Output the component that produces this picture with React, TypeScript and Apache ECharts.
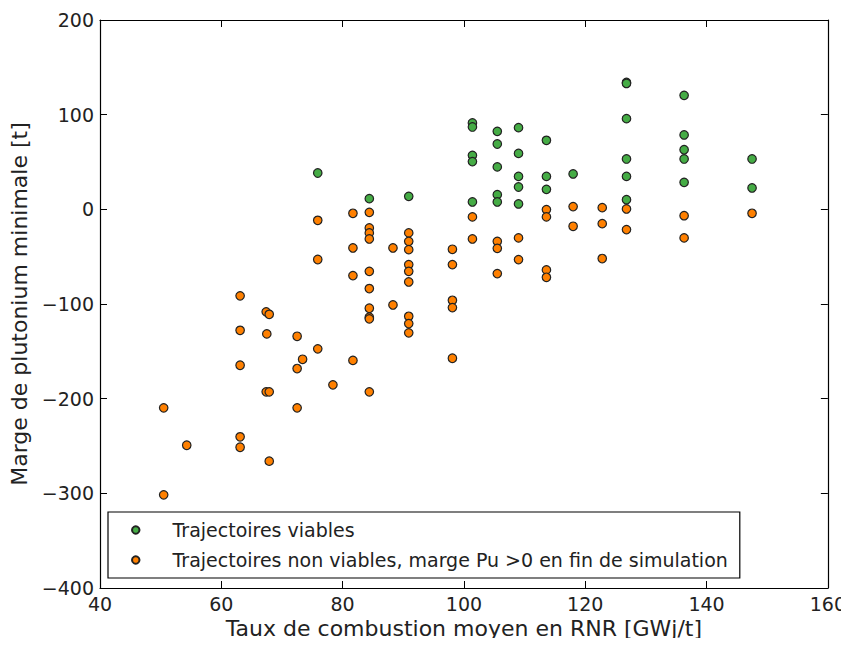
import React, { useEffect, useRef } from "react";
import * as echarts from "echarts";

const viableX = [75.9, 84.4, 90.9, 101.4, 101.4, 101.4, 101.4, 101.4, 105.5, 105.5, 105.5, 105.5, 105.5, 109, 109, 109, 109, 109, 113.6, 113.6, 113.6, 118, 126.8, 126.8, 126.8, 126.8, 126.8, 126.8, 136.3, 136.3, 136.3, 136.3, 136.3, 147.5, 147.5];
const viableY = [38.4, 11.3, 13.7, 91.2, 87, 57, 50.4, 7.8, 82.4, 69, 44.8, 15.5, 7.8, 86.3, 59.1, 34.8, 23.6, 5.7, 72.9, 34.8, 21.1, 37.4, 134, 133, 95.8, 53.2, 34.8, 10.2, 120.4, 78.6, 63, 53.2, 28.5, 53.2, 22.6];

const nonViableX = [50.5, 50.5, 54.3, 63.1, 63.1, 63.1, 63.1, 63.1, 67.4, 67.9, 67.5, 67.4, 67.9, 67.9, 72.5, 72.5, 72.5, 73.4, 75.9, 75.9, 75.9, 78.4, 81.7, 81.7, 81.7, 81.7, 84.4, 84.4, 84.4, 84.4, 84.4, 84.4, 84.4, 84.4, 84.4, 84.4, 88.3, 88.3, 90.9, 90.9, 90.9, 90.9, 90.9, 90.9, 90.9, 90.9, 90.9, 98.1, 98.1, 98.1, 98.1, 98.1, 101.4, 101.4, 105.5, 105.5, 105.5, 109, 109, 113.6, 113.6, 113.6, 113.6, 118, 118, 122.8, 122.8, 122.8, 126.8, 126.8, 136.3, 136.3, 147.5];
const nonViableY = [-209.7, -301.6, -249.2, -91.4, -127.8, -164.7, -240.3, -251.3, -108.3, -110.9, -131.6, -192.8, -192.8, -266, -134.1, -168.2, -209.7, -158.4, -11.6, -53, -147.4, -185.4, -4.2, -40.8, -70, -159.6, -3.2, -19.6, -24.9, -31.3, -65.5, -83.7, -104.5, -114, -115.7, -192.8, -40.8, -101, -24.9, -33.8, -42.6, -58.4, -65.5, -76.7, -113, -120.7, -130.5, -42.2, -58.4, -96.1, -103.8, -157.3, -8, -31.3, -33.8, -41.2, -67.9, -30.2, -53.1, -0.3, -8, -64, -71.8, 2.9, -17.9, 1.8, -15.1, -52, 0.4, -21.4, -6.7, -30.2, -4.2];

const seriesNames = [
  "Trajectoires viables",
  "Trajectoires non viables, marge Pu >0 en fin de simulation",
];
const xLabel = "Taux de combustion moyen en RNR [GWj/t]";
const yLabel = "Marge de plutonium minimale [t]";

const FONT = "DejaVu Sans";
const TEXT = "#222";

function pairs(xs: number[], ys: number[]) {
  return xs.map((x, i) => [x, ys[i]]);
}

const minusFmt = (v: number) => String(v).replace("-", "\u2212");

export default function App() {
  const ref = useRef<HTMLDivElement>(null);
  useEffect(() => {
    if (!ref.current) return;
    const chart = echarts.init(ref.current, undefined, { renderer: "svg" });
    const tickStyle = { inside: true, length: 7, lineStyle: { color: "#000", width: 1 } };
    const lineStyle = { show: true, onZero: false, lineStyle: { color: "#000", width: 1.2 } };
    chart.setOption({
      animation: false,
      textStyle: { fontFamily: FONT },
      grid: { left: 100, right: 21, top: 20, bottom: 58, containLabel: false },
      legend: {
        left: 108,
        top: 512,
        orient: "vertical",
        borderColor: "#000",
        borderWidth: 1.2,
        borderRadius: 0,
        padding: [7, 12, 7, 23],
        itemWidth: 7.5,
        itemHeight: 7.5,
        itemGap: 8,
        icon: "circle",
        textStyle: { fontFamily: FONT, fontSize: 19, color: TEXT, lineHeight: 22, padding: [0, 0, 0, 28] },
        data: seriesNames,
      },
      xAxis: [
        {
          type: "value",
          min: 40,
          max: 160,
          interval: 20,
          name: xLabel,
          nameLocation: "middle",
          nameGap: 27,
          nameTextStyle: { fontFamily: FONT, fontSize: 22, color: TEXT },
          axisLine: lineStyle,
          axisTick: tickStyle,
          axisLabel: { color: TEXT, fontSize: 19, fontFamily: FONT, margin: 6, formatter: minusFmt },
          splitLine: { show: false },
        },
        {
          type: "value",
          position: "top",
          min: 40,
          max: 160,
          interval: 20,
          axisLine: lineStyle,
          axisTick: tickStyle,
          axisLabel: { show: false },
          splitLine: { show: false },
        },
      ],
      yAxis: [
        {
          type: "value",
          min: -400,
          max: 200,
          interval: 100,
          name: yLabel,
          nameLocation: "middle",
          nameGap: 62,
          nameTextStyle: { fontFamily: FONT, fontSize: 22, color: TEXT },
          axisLine: lineStyle,
          axisTick: tickStyle,
          axisLabel: { color: TEXT, fontSize: 19, fontFamily: FONT, margin: 6, formatter: minusFmt },
          splitLine: { show: false },
        },
        {
          type: "value",
          position: "right",
          min: -400,
          max: 200,
          interval: 100,
          axisLine: lineStyle,
          axisTick: tickStyle,
          axisLabel: { show: false },
          splitLine: { show: false },
        },
      ],
      series: [
        {
          name: seriesNames[0],
          type: "scatter",
          xAxisIndex: 0,
          yAxisIndex: 0,
          symbol: "circle",
          symbolSize: 8.5,
          itemStyle: { color: "#45ac45", borderColor: "#222", borderWidth: 1.2, opacity: 1 },
          data: pairs(viableX, viableY),
        },
        {
          name: seriesNames[1],
          type: "scatter",
          xAxisIndex: 0,
          yAxisIndex: 0,
          symbol: "circle",
          symbolSize: 8.5,
          itemStyle: { color: "#ff8000", borderColor: "#222", borderWidth: 1.2, opacity: 1 },
          data: pairs(nonViableX, nonViableY),
        },
      ],
    });
    return () => chart.dispose();
  }, []);
  return <div ref={ref} style={{ width: 849, height: 646, margin: -8 }} />;
}
